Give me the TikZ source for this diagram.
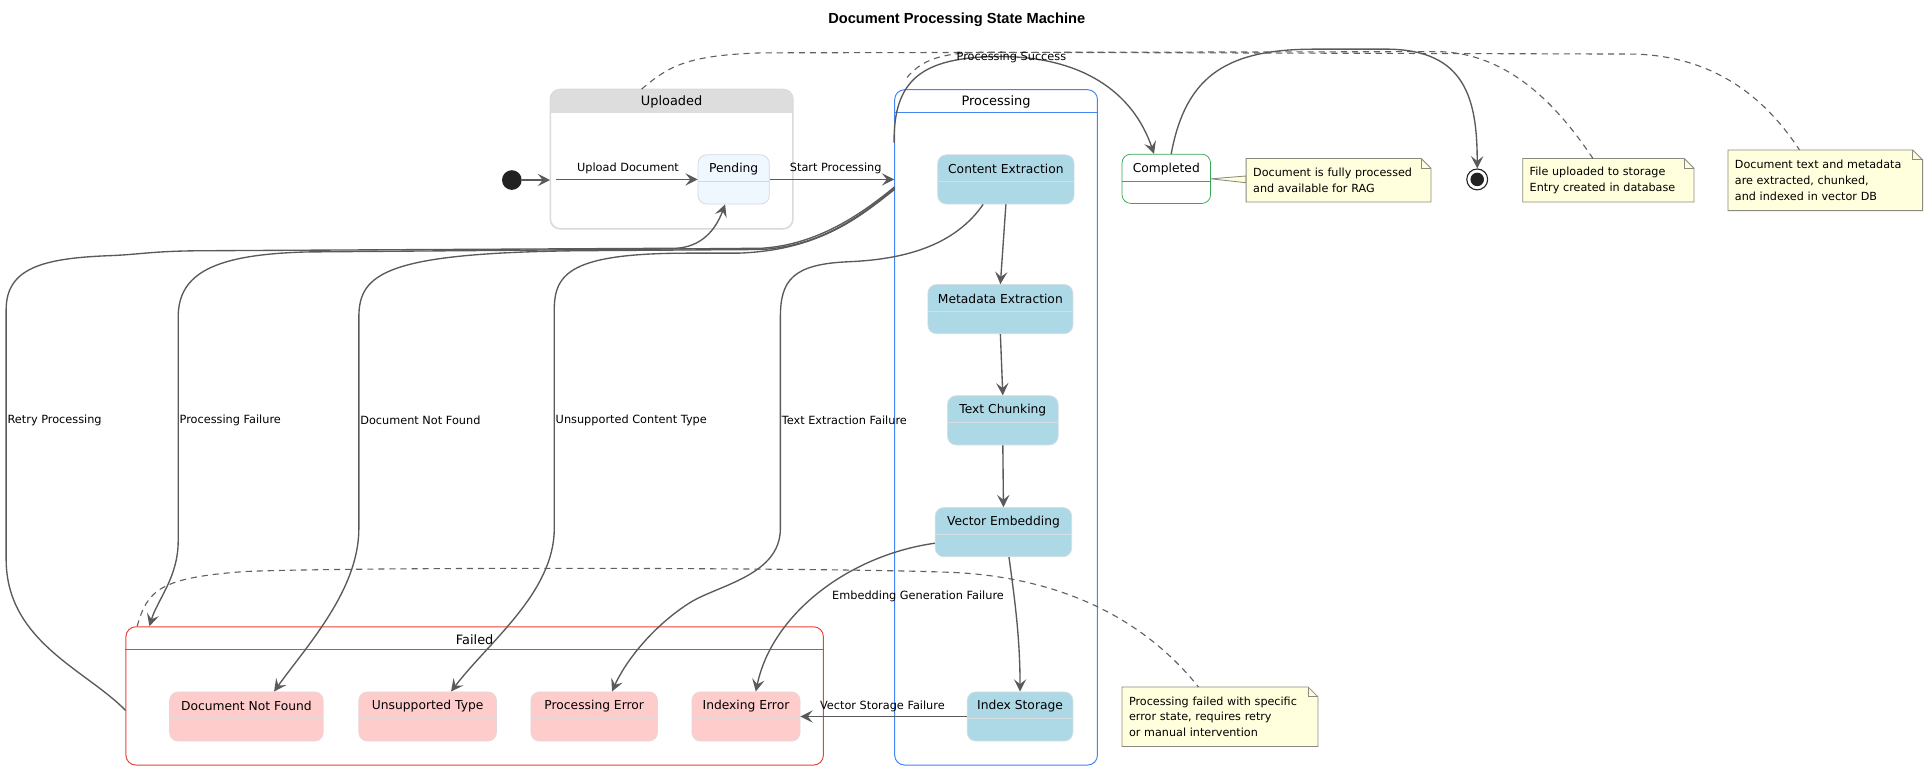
\documentclass[tikz,border=0pt]{standalone}
\usepackage{fontspec}
\setmainfont{DejaVu Sans}
\newfontfamily\titlefont{Liberation Sans}
\usetikzlibrary{arrows.meta,calc}
\pgfdeclarelayer{bg}
\pgfsetlayers{bg,main}

\definecolor{edgec}{HTML}{5A5A5A}
\definecolor{dashc}{HTML}{606060}
\definecolor{uplc}{HTML}{DADADA}
\definecolor{hdrc}{HTML}{DDDDDD}
\definecolor{procc}{HTML}{4285F4}
\definecolor{failc}{HTML}{EA4335}
\definecolor{compc}{HTML}{34A853}
\definecolor{pendf}{HTML}{F0F8FF}
\definecolor{pendb}{HTML}{D3D8DE}
\definecolor{blf}{HTML}{ADD8E6}
\definecolor{blb}{HTML}{D6DEE2}
\definecolor{pkf}{HTML}{FFCCCC}
\definecolor{pkb}{HTML}{E4D8D8}
\definecolor{notef}{HTML}{FFFFDD}
\definecolor{noteb}{HTML}{8A8A80}
\definecolor{initc}{HTML}{222222}

\tikzset{
  edge/.style={draw=edgec, line width=1.1pt, -{Stealth[length=10pt,width=10pt,inset=4pt]}},
  notelink/.style={draw=dashc, line width=0.9pt, dash pattern=on 5pt off 4pt},
  elabel/.style={font=\fontsize{9.2}{11}\selectfont, inner sep=0pt},
  stbox/.style={rectangle, rounded corners=7pt, line width=0.6pt, inner sep=0pt},
  stlabel/.style={font=\fontsize{10}{12}\selectfont, inner sep=0pt},
  cont/.style={rectangle, rounded corners=8pt, line width=0.8pt, inner sep=0pt, fill=white},
  conttitle/.style={font=\fontsize{10.5}{12}\selectfont, inner sep=0pt},
  notebox/.style={rectangle, inner xsep=5.5pt, inner ysep=0pt, align=left, anchor=north west, font=\fontsize{9.1}{12.8}\selectfont},
  notebg/.style={fill=notef, draw=noteb, line width=0.7pt},
}

\newcommand{\mkstate}[7]{%
  \node[stbox, fill=#5, draw=#6, minimum width=#4pt, minimum height=40pt] (#1) at (#2,#3) {};
  \draw[draw=#6, line width=0.6pt] ([yshift=-22pt]#1.north west) -- ([yshift=-22pt]#1.north east);
  \node[stlabel] (#1-t) at ([yshift=-12pt]#1.north) {#7};
}

\begin{document}
\begin{tikzpicture}[x=1pt,y=-1pt]
\useasboundingbox (0,0) rectangle (1568,627);

% title
\node[font=\titlefont\bfseries\fontsize{11.9}{14}\selectfont, inner sep=0pt] (title) at (778.5,16) {Document Processing State Machine};

% containers
\node[cont, draw=uplc, minimum width=197pt, minimum height=113pt] (upl) at (546.5,129.5) {};
\begin{scope}
  \clip[rounded corners=8pt] (upl.north west) rectangle (upl.south east);
  \fill[hdrc] (upl.north west) rectangle ([yshift=-19pt]upl.north east);
\end{scope}
\draw[uplc, line width=0.8pt, rounded corners=8pt] (upl.north west) rectangle (upl.south east);
\node[conttitle] (upl-t) at ([yshift=-10pt]upl.north) {Uploaded};

\node[cont, draw=procc, minimum width=165pt, minimum height=549.5pt] (proc) at (810.5,347.75) {};
\draw[procc, line width=0.8pt] ([yshift=-19pt]proc.north west) -- ([yshift=-19pt]proc.north east);
\node[conttitle] (proc-t) at ([yshift=-10.5pt]proc.north) {Processing};

\node[cont, draw=failc, minimum width=567.5pt, minimum height=112.5pt] (fail) at (386.25,566.25) {};
\draw[failc, line width=0.8pt] ([yshift=-19pt]fail.north west) -- ([yshift=-19pt]fail.north east);
\node[conttitle] (fail-t) at ([yshift=-11pt]fail.north) {Failed};

% states
\mkstate{pend}{597}{146}{58}{pendf}{pendb}{Pending}
\mkstate{ce}{818.5}{146}{111}{blf}{blb}{Content Extraction}
\mkstate{me}{814}{251.5}{118}{blf}{blb}{Metadata Extraction}
\mkstate{tc}{816}{342}{90}{blf}{blb}{Text Chunking}
\mkstate{ve}{816.5}{433}{111}{blf}{blb}{Vector Embedding}
\mkstate{is}{830}{583}{86}{blf}{blb}{Index Storage}
\mkstate{comp}{949}{145.5}{72}{white}{compc}{Completed}
\mkstate{dnf}{200.5}{583}{125}{pkf}{pkb}{Document Not Found}
\mkstate{ut}{348}{583}{112}{pkf}{pkb}{Unsupported Type}
\mkstate{pe}{483.5}{583}{103}{pkf}{pkb}{Processing Error}
\mkstate{ie}{607}{583}{88}{pkf}{pkb}{Indexing Error}

% initial / final
\node[circle, fill=initc, minimum size=16pt, inner sep=0pt] (init) at (416.5,146.5) {};
\node[circle, draw=initc, fill=white, line width=0.9pt, minimum size=17pt, inner sep=0pt] (fin) at (1202,146) {};
\node[circle, fill=initc, minimum size=11pt, inner sep=0pt] (fin-in) at (fin) {};

% notes
\node[notebox, text width=139pt, minimum height=35pt] (nComp) at (1014,129) {Document is fully processed\\and available for RAG};
\node[notebox, text width=128pt, minimum height=35pt] (nUpl) at (1239,129) {File uploaded to storage\\Entry created in database};
\node[notebox, text width=147pt, minimum height=49pt] (nProc) at (1406,122) {Document text and metadata\\are extracted, chunked,\\and indexed in vector DB};
\node[notebox, text width=148pt, minimum height=48pt] (nFail) at (913,559) {Processing failed with specific\\error state, requires retry\\or manual intervention};

\begin{pgfonlayer}{bg}
  \filldraw[notebg] (comp.east) -- ([yshift=3.5pt]nComp.west) -- ([yshift=-2pt]nComp.west) -- cycle;
  \foreach \n in {nComp,nUpl,nProc,nFail}{
    \draw[notebg] (\n.north west) -- ([xshift=-8pt]\n.north east) -- ([yshift=-8pt]\n.north east) -- (\n.south east) -- (\n.south west) -- cycle;
    \draw[draw=noteb, line width=0.7pt] ([xshift=-8pt]\n.north east) -- ([xshift=-8pt,yshift=-8pt]\n.north east) -- ([yshift=-8pt]\n.north east);
  }
\end{pgfonlayer}

% note links (dashed)
\coordinate (dU) at ([xshift=-24.5pt]upl.north);
\coordinate (dP) at (738,63);
\coordinate (dF) at ([xshift=9.5pt]fail.north west);
\draw[notelink] (dU) .. controls (545,53) and (560,45) .. (620,43) -- (1170,42) .. controls (1230,43) and (1270,90) .. ([xshift=-12.5pt]nUpl.north);
\draw[notelink] (dP) .. controls (750,49) and (765,43) .. (800,42.5) -- (1330,44) .. controls (1400,46) and (1440,85) .. ([xshift=-21pt]nProc.north);
\draw[notelink] (dF) .. controls (120,480) and (130,470) .. (200,465) .. controls (300,461) and (700,462) .. (780,466) .. controls (880,472) and (940,515) .. ([xshift=-17.5pt]nFail.north);

% main flow
\draw[edge] (init) -- (upl.west |- init);
\coordinate (uplin) at ([xshift=5pt]upl.west |- pend.west);
\draw[edge] (uplin) -- (pend.west);
\node[elabel] (l-upload) at (511,137) {Upload Document};
\draw[edge] (pend.east) -- (proc.west |- pend.east);
\node[elabel] (l-start) at (680,137) {Start Processing};

\draw[edge] (ce.south) -- (me.north);
\draw[edge] (me.south) -- (tc.north);
\draw[edge] (tc.south) -- (ve.north);
\draw[edge] ([xshift=4.5pt]ve.south) .. controls (826,490) and (830,520) .. (is.north);
\draw[edge] (is.west) -- (ie.east);
\node[elabel] (l-vsf) at (718,575) {Vector Storage Failure};

\draw[edge] ([yshift=-9pt]ve.west) .. controls (690,452) and (628,500) .. ([xshift=8pt]ie.north);
\node[elabel] (l-egf) at (747,485) {Embedding Generation Failure};

\draw[edge] ([xshift=-18.5pt]ce.south) .. controls (778,198) and (740,211) .. (690,213) .. controls (645,215) and (635,228) .. (635,258) -- (635,430) .. controls (635,468) and (585,476) .. (562,490) .. controls (530,510) and (508,540) .. ([xshift=14.5pt]pe.north);
\node[elabel, anchor=west] (l-tef) at (636,342) {Text Extraction Failure};

% processing success / completion
\coordinate (psS) at (727.5,116);
\draw[edge] (psS) .. controls (727,65) and (750,47) .. (810,46) .. controls (880,45) and (922,75) .. ([xshift=-10pt]comp.north);
\node[elabel] (l-succ) at (823,47) {Processing Success};
\draw[edge] ([xshift=4pt]comp.north) .. controls (965,60) and (1000,40) .. (1070,40) -- (1130,40) .. controls (1192,41) and (1202,80) .. (fin.north);

% failures from processing
\coordinate (b1) at (728,152);
\coordinate (b2) at (728,153);
\coordinate (b3) at (728,154);
\draw[edge] (b1) .. controls (700,175) and (665,199) .. (620,202) -- (250,205) .. controls (175,207) and (145,222) .. (145,258) -- (145,440) .. controls (145,470) and (128,488) .. ([xshift=19.5pt]fail.north west);
\node[elabel, anchor=west] (l-pf) at (146,342) {Processing Failure};
\draw[edge] (b2) .. controls (700,176) and (668,200) .. (620,203) -- (470,204) .. controls (315,206) and (292,222) .. (292,258) -- (292,430) .. controls (292,480) and (250,525) .. ([xshift=22.5pt]dnf.north);
\node[elabel, anchor=west] (l-dnf) at (293,342) {Document Not Found};
\draw[edge] (b3) .. controls (698,178) and (665,204) .. (600,206) -- (560,206) .. controls (465,206) and (451,222) .. (451,252) -- (451,430) .. controls (451,482) and (398,522) .. ([xshift=19pt]ut.north);
\node[elabel, anchor=west] (l-uct) at (452,342) {Unsupported Content Type};

% retry
\draw[edge] ([yshift=-11.75pt]fail.west) .. controls (70,545) and (5,522) .. (5,455) -- (5,252) .. controls (5,218) and (35,210) .. (90,208) .. controls (115,207) and (125,204) .. (170,204) -- (550,202) .. controls (570,201) and (582,188) .. ([xshift=-7pt]pend.south);
\node[elabel, anchor=west] (l-retry) at (6,342) {Retry Processing};

\end{tikzpicture}
\end{document}
